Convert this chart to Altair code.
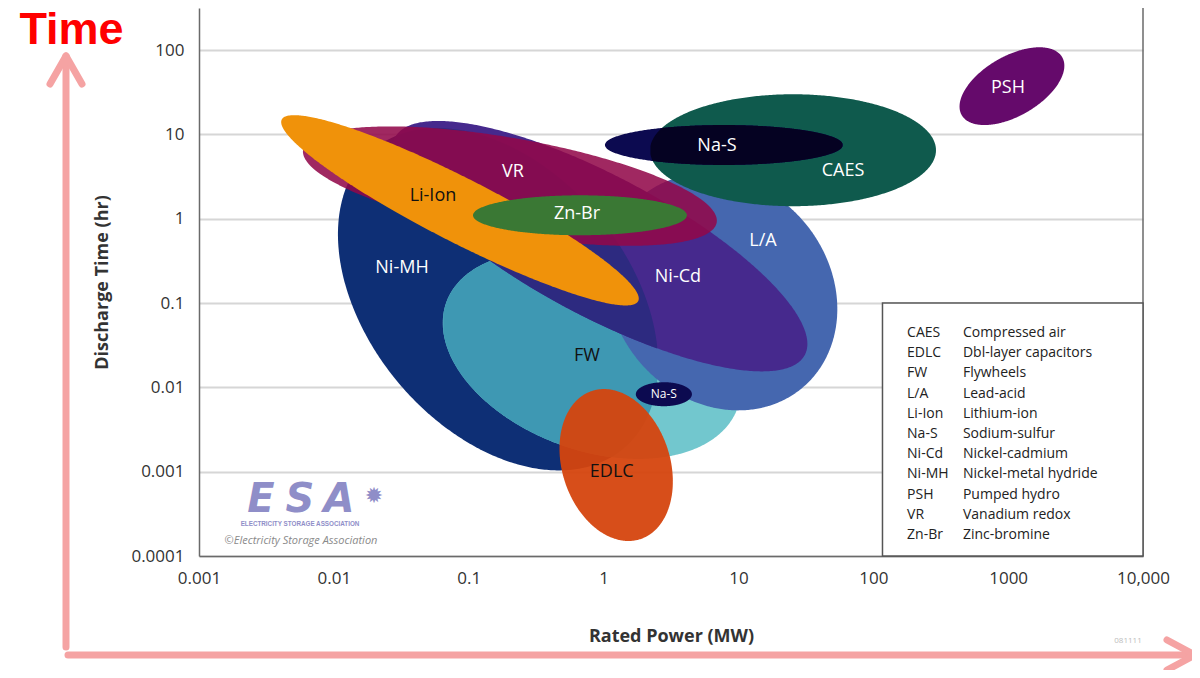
import numpy as np
import pandas as pd
import altair as alt

# ---------------- chart geometry ----------------
W, H = 944, 548
X_DOMAIN = [0.001, 10000]
Y_DOMAIN = [0.0001, 10 ** 2.5]
X_DECADES = np.log10(X_DOMAIN[1]) - np.log10(X_DOMAIN[0])
Y_DECADES = np.log10(Y_DOMAIN[1]) - np.log10(Y_DOMAIN[0])
ASPECT = (W / X_DECADES) / (H / Y_DECADES)  # y-decades per screen-equal x-decade

# ---------------- axis ticks ----------------
x_ticks = [0.001, 0.01, 0.1, 1, 10, 100, 1000, 10000]
x_tick_labels = ["0.001", "0.01", "0.1", "1", "10", "100", "1000", "10,000"]
y_ticks = [0.0001, 0.001, 0.01, 0.1, 1, 10, 100]
y_tick_labels = ["0.0001", "0.001", "0.01", "0.1", "1", "10", "100"]

# ---------------- technology regions (ellipses in log-log space) ----------------
tech_names = ["Ni-MH", "FW", "L/A", "Ni-Cd", "EDLC", "Na-S small", "VR", "CAES",
              "Na-S", "Li-Ion", "Zn-Br", "PSH"]
center_mw = [0.165, 0.82, 7.55, 0.94, 1.24, 2.8, 0.202, 25.4, 7.8, 0.0861, 0.668, 1067]
center_hr = [0.111, 0.0241, 0.135, 0.473, 0.0012, 0.0083, 2.44, 6.5, 7.5, 1.26, 1.10, 37.4]
semi_major = [1.446, 1.149, 0.927, 1.720, 0.578, 0.208, 1.557, 1.060, 0.882, 1.483, 0.793, 0.430]
semi_minor = [0.964, 0.704, 0.801, 0.519, 0.400, 0.089, 0.356, 0.415, 0.148, 0.237, 0.148, 0.222]
tilt_deg = [-50, -20, -50, -28, -72, 0, -10, 0, 0, -27, 0, 30]
fill_color = ["#0E2F75", "#72C7CE", "#4567AF", "#46298D", "#D5450E", "#0C0A50",
              "#92084A", "#0F5A4D", "#0C0A50", "#F0920A", "#3A7834", "#650A6B"]
fill_opacity = [1, 1, 1, 1, 0.95, 1, 0.87, 1, 1, 1, 1, 1]

overlap_pairs = [("FW", "Ni-MH"), ("Ni-Cd", "Ni-MH"), ("Na-S", "CAES")]
overlap_color = ["#3E98B3", "#2D2A80", "#050222"]

draw_order = ["Ni-MH", "FW", "FW&Ni-MH", "L/A", "Ni-Cd", "Ni-Cd&Ni-MH", "EDLC",
              "Na-S small", "VR", "CAES", "Na-S", "Na-S&CAES", "Li-Ion", "Zn-Br", "PSH"]

# ---------------- region labels ----------------
label_text = ["Ni-MH", "VR", "Li-Ion", "Zn-Br", "Ni-Cd", "L/A", "FW", "CAES", "Na-S",
              "PSH", "EDLC", "Na-S"]
label_mw = [0.032, 0.213, 0.0543, 0.635, 3.56, 15.2, 0.754, 59.6, 6.93, 998, 1.15, 2.8]
label_hr = [0.26, 3.57, 1.85, 1.135, 0.203, 0.543, 0.0235, 3.67, 7.26, 35.4, 0.00099, 0.0083]
label_color = ["#FFFFFF", "#FFFFFF", "#111111", "#FFFFFF", "#FFFFFF", "#FFFFFF", "#111111",
               "#FFFFFF", "#FFFFFF", "#FFFFFF", "#111111", "#FFFFFF"]
label_size = [18, 18, 18, 18, 18, 18, 18, 18, 18, 18, 18, 12]

# ---------------- key box ----------------
legend_abbr = ["CAES", "EDLC", "FW", "L/A", "Li-Ion", "Na-S", "Ni-Cd", "Ni-MH", "PSH", "VR", "Zn-Br"]
legend_desc = ["Compressed air", "Dbl-layer capacitors", "Flywheels", "Lead-acid",
               "Lithium-ion", "Sodium-sulfur", "Nickel-cadmium", "Nickel-metal hydride",
               "Pumped hydro", "Vanadium redox", "Zinc-bromine"]
legend_box_left_mw = 117
legend_box_top_hr = 0.1
legend_abbr_mw = 178
legend_desc_mw = 462
legend_first_row_log_hr = -1.355
legend_row_step_dec = 0.2396


# ---------------- geometry helpers ----------------
def ell(name):
    i = tech_names.index(name)
    return dict(lx=np.log10(center_mw[i]), ly=np.log10(center_hr[i]), a=semi_major[i],
                b=semi_minor[i], th=np.radians(tilt_deg[i]))


def bounds_at(e, lx):
    a, b, th = e["a"], e["b"], e["th"]
    c, s = np.cos(th), np.sin(th)
    X = lx - e["lx"]
    A_ = s ** 2 / a ** 2 + c ** 2 / b ** 2
    B_ = 2 * X * s * c * (1 / a ** 2 - 1 / b ** 2)
    C_ = X ** 2 * (c ** 2 / a ** 2 + s ** 2 / b ** 2) - 1
    disc = B_ ** 2 - 4 * A_ * C_
    valid = disc >= 0
    sq = np.sqrt(np.clip(disc, 0, None))
    hi = (-B_ + sq) / (2 * A_)
    lo = (-B_ - sq) / (2 * A_)
    return e["ly"] + ASPECT * lo, e["ly"] + ASPECT * hi, valid


def x_extent(e):
    c, s = np.cos(e["th"]), np.sin(e["th"])
    return np.sqrt(e["a"] ** 2 * c ** 2 + e["b"] ** 2 * s ** 2)


def ellipse_frame(name):
    e = ell(name)
    xe = x_extent(e)
    lx = e["lx"] - xe * np.cos(np.linspace(0, np.pi, 240))
    lo, hi, _ = bounds_at(e, lx)
    return pd.DataFrame({"x": 10 ** lx, "lo": 10 ** lo, "hi": 10 ** hi})


def overlap_frame(n1, n2):
    e1, e2 = ell(n1), ell(n2)
    left = max(e1["lx"] - x_extent(e1), e2["lx"] - x_extent(e2))
    right = min(e1["lx"] + x_extent(e1), e2["lx"] + x_extent(e2))
    lx = np.linspace(left, right, 500)
    lo1, hi1, v1 = bounds_at(e1, lx)
    lo2, hi2, v2 = bounds_at(e2, lx)
    lo = np.maximum(lo1, lo2)
    hi = np.minimum(hi1, hi2)
    keep = v1 & v2 & (hi > lo)
    return pd.DataFrame({"x": 10 ** lx[keep], "lo": 10 ** lo[keep], "hi": 10 ** hi[keep]})


def tick_expr(vals, labs):
    expr = "''"
    for v, l in zip(reversed(vals), reversed(labs)):
        expr = f"(abs(log(datum.value)/LN10 - ({np.log10(v):.4f})) < 0.01 ? '{l}' : {expr})"
    return expr


# ---------------- scales & axes ----------------
FONT = "Open Sans"
xscale = alt.Scale(type="log", domain=X_DOMAIN, nice=False)
yscale = alt.Scale(type="log", domain=Y_DOMAIN, nice=False)
xaxis = alt.Axis(values=x_ticks, labelExpr=tick_expr(x_ticks, x_tick_labels), grid=False,
                 ticks=False, domain=True, domainColor="#6A6A6A", domainWidth=1.5,
                 labelFont=FONT, labelFontSize=17, labelColor="#333333", labelPadding=14,
                 labelFlush=False, labelOverlap=False,
                 title="Rated Power (MW)", titleFont=FONT, titleFontSize=18,
                 titleFontWeight="bold", titleColor="#333333", titleY=80,
                 titleBaseline="middle", titleAlign="center")
yaxis = alt.Axis(values=y_ticks, labelExpr=tick_expr(y_ticks, y_tick_labels), grid=True,
                 gridColor="#D6D6D6", gridWidth=2, ticks=False, domain=True,
                 domainColor="#6A6A6A", domainWidth=1.5,
                 labelFont=FONT, labelFontSize=17, labelColor="#333333", labelPadding=15,
                 labelFlush=False, labelOverlap=False,
                 title="Discharge Time (hr)", titleFont=FONT, titleFontSize=18,
                 titleFontWeight="bold", titleColor="#333333", titleX=-97, titleY=274,
                 titleAngle=270, titleBaseline="middle", titleAlign="center")


def X(field=None, datum=None):
    if field is not None:
        return alt.X(field, type="quantitative", scale=xscale, axis=xaxis)
    return alt.X(datum=datum, type="quantitative", scale=xscale, axis=xaxis)


def Y(field=None, datum=None):
    if field is not None:
        return alt.Y(field, type="quantitative", scale=yscale, axis=yaxis)
    return alt.Y(datum=datum, type="quantitative", scale=yscale, axis=yaxis)


layers = []

# ---------------- ellipses ----------------
for item in draw_order:
    if "&" in item:
        n1, n2 = item.split("&")
        k = overlap_pairs.index((n1, n2))
        df = overlap_frame(n1, n2)
        color, op = overlap_color[k], 1
    else:
        i = tech_names.index(item)
        df = ellipse_frame(item)
        color, op = fill_color[i], fill_opacity[i]
    layers.append(
        alt.Chart(df).mark_area(color=color, opacity=op, interpolate="linear")
        .encode(x=X("x"), y=Y("hi"), y2=alt.Y2("lo"))
    )

# ---------------- region labels ----------------
labels_df = pd.DataFrame({"t": label_text, "x": label_mw, "y": label_hr,
                          "c": label_color, "s": label_size})
layers.append(
    alt.Chart(labels_df).mark_text(font=FONT, align="center", baseline="middle")
    .encode(x=X("x"), y=Y("y"), text="t:N",
            color=alt.Color("c:N", scale=None), size=alt.Size("s:Q", scale=None))
)

# ---------------- right frame line ----------------
layers.append(
    alt.Chart(pd.DataFrame({"k": [0]})).mark_rule(color="#6A6A6A", strokeWidth=1.5)
    .encode(x=X(datum=X_DOMAIN[1]), y=Y(datum=Y_DOMAIN[0]), y2=alt.Y2(datum=Y_DOMAIN[1]))
)

# ---------------- key box ----------------
layers.append(
    alt.Chart(pd.DataFrame({"k": [0]})).mark_rect(fill="white", stroke="#555555",
                                                  strokeWidth=1.5)
    .encode(x=X(datum=legend_box_left_mw), x2=alt.X2(datum=X_DOMAIN[1]),
            y=Y(datum=Y_DOMAIN[0]), y2=alt.Y2(datum=legend_box_top_hr))
)
rows = np.arange(len(legend_abbr))
legend_df = pd.DataFrame({
    "abbr": legend_abbr, "desc": legend_desc,
    "y": 10 ** (legend_first_row_log_hr - legend_row_step_dec * rows),
    "xa": [legend_abbr_mw] * len(rows), "xd": [legend_desc_mw] * len(rows)})
layers.append(
    alt.Chart(legend_df).mark_text(font=FONT, fontSize=14, color="#222222", align="left",
                                   baseline="middle")
    .encode(x=X("xa"), y=Y("y"), text="abbr:N")
)
layers.append(
    alt.Chart(legend_df).mark_text(font=FONT, fontSize=14, color="#222222", align="left",
                                   baseline="middle")
    .encode(x=X("xd"), y=Y("y"), text="desc:N")
)

# ---------------- decorations (pixel positions relative to the plot) ----------------
one = pd.DataFrame({"k": [0]})


def deco_text(txt, x, y, **kw):
    return alt.Chart(one).mark_text(text=txt, **kw).encode(x=alt.value(x), y=alt.value(y))


def deco_rule(x1, y1, x2, y2, **kw):
    return alt.Chart(one).mark_rule(**kw).encode(
        x=alt.value(x1), y=alt.value(y1), x2=alt.value(x2), y2=alt.value(y2))


ESA_COLOR = "#8F8EC8"
for letter, lx_px in zip(["E", "S", "A"], [62, 101, 140]):
    layers.append(deco_text(letter, lx_px, 504, font="DejaVu Sans", fontSize=40,
                            fontWeight="bold", fontStyle="italic", color=ESA_COLOR,
                            align="center", baseline="alphabetic"))
layers.append(deco_text("\u2739", 175, 488, font="DejaVu Sans", fontSize=22,
                        color=ESA_COLOR, align="center", baseline="middle"))
layers.append(deco_text("ELECTRICITY STORAGE ASSOCIATION", 101, 516, font="Liberation Sans",
                        fontSize=6.3, fontWeight="bold", color=ESA_COLOR, align="center",
                        baseline="middle"))
layers.append(deco_text("\u00a9Electricity Storage Association", 102, 533, font=FONT,
                        fontSize=11, fontStyle="italic", color="#8A8A8A", align="center",
                        baseline="middle"))
layers.append(deco_text("081111", 929, 633, font=FONT, fontSize=8, color="#BDBDBD",
                        align="center", baseline="middle"))

ARROW = dict(color="#F5A3A3", strokeWidth=7, strokeCap="round")
layers.append(deco_rule(-133, 639, -133, 50, **ARROW))
layers.append(deco_rule(-133, 48, -149, 76, **ARROW))
layers.append(deco_rule(-133, 48, -117, 76, **ARROW))
layers.append(deco_rule(-131, 647, 994, 647, **ARROW))
layers.append(deco_rule(996, 647, 968, 632, **ARROW))
layers.append(deco_rule(996, 647, 968, 662, **ARROW))
layers.append(deco_text("Time", -127.5, 36, font="Liberation Sans", fontSize=45,
                        fontWeight="bold", color="#FF0000", align="center",
                        baseline="alphabetic"))

chart = (
    alt.layer(*layers)
    .properties(width=W, height=H, autosize=alt.AutoSizeParams(type="none"),
                padding={"left": 191, "top": 0, "right": 49, "bottom": 114},
                background="white")
    .configure_view(stroke=None)
)

chart.save("out.html", embed_options={"renderer": "svg", "actions": False})
